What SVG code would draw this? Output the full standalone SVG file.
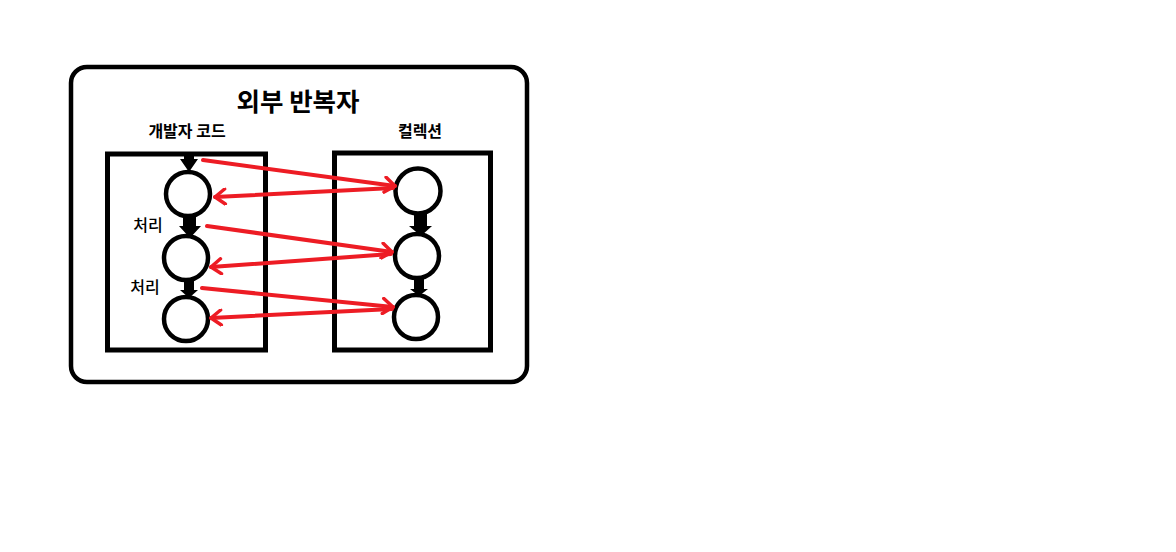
<svg xmlns="http://www.w3.org/2000/svg" width="1176" height="552" viewBox="0 0 1176 552">
<style>
.box{fill:none;stroke:#000;stroke-width:5}
.node{fill:#fff;stroke:#000;stroke-width:4.5}
.blk{fill:#000}
.red{stroke:#ED1C24;stroke-width:4;fill:none;stroke-linecap:round;marker-end:url(#rh)}
.t{font-family:"Noto Sans CJK KR","Noto Sans",sans-serif;fill:#000}
</style>
<defs>
<marker id="rh" markerUnits="userSpaceOnUse" markerWidth="18" markerHeight="18" viewBox="0 0 18 18" refX="15" refY="9" orient="auto">
<path d="M5,1.5 L15,9 L5,16.5" fill="none" stroke="#ED1C24" stroke-width="3.5" stroke-linecap="round" stroke-linejoin="round"/>
</marker>
</defs>
<rect width="1176" height="552" fill="#fff"/>
<g id="outer">
<rect x="71" y="67" width="456" height="315" rx="16" ry="16" fill="none" stroke="#000" stroke-width="4.5"/>
<text class="t" x="298" y="111" font-size="25.5" font-weight="bold" text-anchor="middle">외부 반복자</text>
</g>
<g id="dev-code">
<rect class="box" x="107.5" y="154" width="158" height="196"/>
<text class="t" x="187" y="137" font-size="16" font-weight="600" text-anchor="middle">개발자 코드</text>
</g>
<g id="collection">
<rect class="box" x="334.5" y="153" width="156" height="197"/>
<text class="t" x="420" y="137" font-size="16" font-weight="600" text-anchor="middle">컬렉션</text>
</g>
<g id="L1"><circle class="node" cx="188" cy="194" r="22"/></g>
<g id="L2"><circle class="node" cx="186" cy="258" r="22"/></g>
<g id="L3"><circle class="node" cx="186" cy="319" r="22"/></g>
<g id="R1"><circle class="node" cx="418" cy="191" r="22.5"/></g>
<g id="R2"><circle class="node" cx="417" cy="256" r="22"/></g>
<g id="R3"><circle class="node" cx="416" cy="317" r="22"/></g>
<g id="labels">
<text class="t" x="148" y="231" font-size="16" font-weight="500" text-anchor="middle">처리</text>
<text class="t" x="145" y="293" font-size="16" font-weight="500" text-anchor="middle">처리</text>
</g>
<g id="connectors">
<polygon class="blk" points="184,152 194,152 194,159 198,159 189,172 180,159 184,159"/>
<polygon class="blk" points="183,215 196,215 196,226 201,226 190,238 179,226 183,226"/>
<polygon class="blk" points="184,280 194,280 194,290 198,290 189,298 180,290 184,290"/>
<polygon class="blk" points="414,212 427,212 427,226 432,226 421,236 409,226 414,226"/>
<polygon class="blk" points="414,277 424,277 424,289 428,289 419,296 410,289 414,289"/>
<line class="red" x1="203" y1="160" x2="395" y2="186"/>
<line class="red" x1="393" y1="188" x2="215" y2="197"/>
<line class="red" x1="207" y1="226" x2="392" y2="252"/>
<line class="red" x1="391" y1="254" x2="211" y2="267"/>
<line class="red" x1="202" y1="288" x2="393" y2="307"/>
<line class="red" x1="392" y1="309" x2="211" y2="318"/>
</g>
</svg>
